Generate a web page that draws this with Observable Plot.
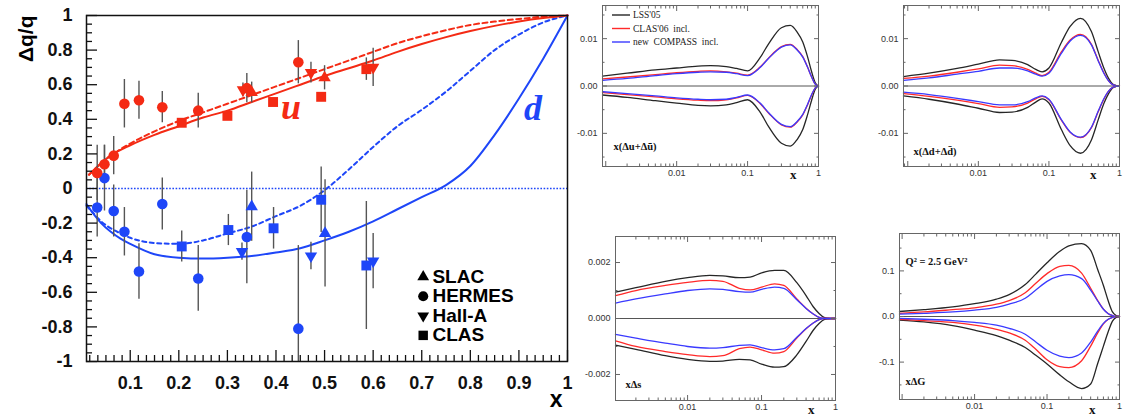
<!DOCTYPE html>
<html><head><meta charset="utf-8">
<script src="https://cdn.jsdelivr.net/npm/d3@7"></script>
<script src="https://cdn.jsdelivr.net/npm/@observablehq/plot@0.6"></script>
<style>
body{margin:0;background:#fff;}
#root{position:relative;width:1123px;height:418px;overflow:hidden;background:#fff;}
#root svg{position:absolute;}
</style></head><body><div id="root"></div>
<script>
// ================= LEFT PANEL DATA (Δq/q) =================
const expNames = ["SLAC", "HERMES", "Hall-A", "CLAS"];
const xTickLabels = [0.1, 0.2, 0.3, 0.4, 0.5, 0.6, 0.7, 0.8, 0.9, 1];
const yTickLabels = [-1, -0.8, -0.6, -0.4, -0.2, 0, 0.2, 0.4, 0.6, 0.8, 1];

const uX   = [0.032, 0.047, 0.066, 0.088, 0.118, 0.166, 0.206, 0.240, 0.300, 0.332, 0.340, 0.350, 0.394, 0.446, 0.472, 0.493, 0.500, 0.586, 0.600];
const uY   = [0.09, 0.14, 0.19, 0.49, 0.51, 0.47, 0.38, 0.45, 0.42, 0.57, 0.58, 0.555, 0.50, 0.73, 0.67, 0.53, 0.64, 0.69, 0.70];
const uErr = [0.16, 0.11, 0.11, 0.14, 0.11, 0.09, 0.02, 0.10, 0.02, 0.04, 0.085, 0.06, 0.02, 0.125, 0.06, 0.02, 0.07, 0.065, 0.11];
const uExp = ["HERMES","HERMES","HERMES","HERMES","HERMES","HERMES","CLAS","HERMES","CLAS","Hall-A","HERMES","SLAC","CLAS","HERMES","Hall-A","CLAS","SLAC","CLAS","Hall-A"];

const dX   = [0.032, 0.047, 0.066, 0.088, 0.118, 0.166, 0.206, 0.240, 0.302, 0.330, 0.340, 0.350, 0.395, 0.446, 0.472, 0.493, 0.501, 0.586, 0.600];
const dY   = [-0.11, 0.06, -0.13, -0.25, -0.48, -0.09, -0.335, -0.52, -0.24, -0.365, -0.28, -0.105, -0.23, -0.81, -0.39, -0.065, -0.26, -0.445, -0.42];
const dErr = [0.17, 0.19, 0.15, 0.14, 0.16, 0.15, 0.09, 0.19, 0.09, 0.05, 0.27, 0.20, 0.12, 0.48, 0.08, 0.19, 0.31, 0.37, 0.16];
const dExp = ["HERMES","HERMES","HERMES","HERMES","HERMES","HERMES","CLAS","HERMES","CLAS","Hall-A","HERMES","SLAC","CLAS","HERMES","Hall-A","CLAS","SLAC","CLAS","Hall-A"];

const uCurveX  = [0.015, 0.03, 0.05, 0.065, 0.1, 0.15, 0.2, 0.25, 0.3, 0.35, 0.4, 0.45, 0.5, 0.55, 0.6, 0.65, 0.7, 0.75, 0.8, 0.85, 0.9, 0.95, 1];
const uSolid   = [0.08, 0.12, 0.17, 0.2, 0.25, 0.31, 0.36, 0.41, 0.45, 0.5, 0.55, 0.6, 0.65, 0.695, 0.74, 0.79, 0.835, 0.875, 0.91, 0.94, 0.965, 0.985, 1];
const uDashed  = [0.08, 0.12, 0.17, 0.2, 0.26, 0.33, 0.39, 0.44, 0.49, 0.54, 0.59, 0.64, 0.69, 0.74, 0.79, 0.84, 0.88, 0.915, 0.945, 0.965, 0.98, 0.993, 1];
const dCurveX  = [0.01, 0.02, 0.04, 0.06, 0.08, 0.1, 0.15, 0.2, 0.25, 0.3, 0.35, 0.4, 0.45, 0.5, 0.55, 0.6, 0.65, 0.7, 0.75, 0.8, 0.85, 0.9, 0.95, 1];
const dSolid   = [-0.09, -0.13, -0.2, -0.25, -0.29, -0.32, -0.38, -0.40, -0.405, -0.40, -0.39, -0.37, -0.345, -0.3, -0.25, -0.19, -0.12, -0.05, 0.02, 0.13, 0.31, 0.52, 0.75, 1];
const dDashed  = [-0.1, -0.13, -0.19, -0.23, -0.26, -0.285, -0.315, -0.32, -0.3, -0.26, -0.22, -0.16, -0.1, -0.01, 0.11, 0.24, 0.36, 0.455, 0.56, 0.68, 0.8, 0.89, 0.96, 1];

// ================= RIGHT PANELS DATA =================
const seriesNames = ["LSS'05", "CLAS'06  incl.", "new  COMPASS  incl."];
// x(Δu+Δū)
const g1 = [0.0009, 0.002, 0.005, 0.01, 0.02, 0.03, 0.05, 0.07, 0.1, 0.15, 0.2, 0.3, 0.4, 0.5, 0.6, 0.7, 0.8, 0.9, 1];
const u_lssUp  = [0.0021, 0.0027, 0.0034, 0.0038, 0.0042, 0.0043, 0.0041, 0.0037, 0.0032, 0.0060, 0.0090, 0.0123, 0.0128, 0.0114, 0.0093, 0.0062, 0.0030, 0.0007, 0];
const u_clasUp = [0.0015, 0.0019, 0.0024, 0.0028, 0.0031, 0.0032, 0.0030, 0.0027, 0.0023, 0.0040, 0.0060, 0.0083, 0.0088, 0.0077, 0.0062, 0.0040, 0.0019, 0.0004, 0];
const u_compUp = [0.0012, 0.0016, 0.0022, 0.0026, 0.0029, 0.0030, 0.0029, 0.0026, 0.0022, 0.0039, 0.0059, 0.0082, 0.0087, 0.0076, 0.0061, 0.0040, 0.0019, 0.0004, 0];
const u_lssLo  = [-0.0019, -0.0024, -0.0031, -0.0036, -0.0041, -0.0042, -0.0040, -0.0035, -0.0029, -0.0055, -0.0087, -0.0121, -0.0127, -0.0113, -0.0092, -0.0061, -0.0030, -0.0007, 0];
const u_clasLo = [-0.0014, -0.0018, -0.0023, -0.0027, -0.0030, -0.0031, -0.0029, -0.0025, -0.0020, -0.0037, -0.0058, -0.0082, -0.0087, -0.0076, -0.0061, -0.0040, -0.0019, -0.0004, 0];
const u_compLo = [-0.0012, -0.0016, -0.0021, -0.0025, -0.0028, -0.0029, -0.0028, -0.0024, -0.0019, -0.0036, -0.0057, -0.0081, -0.0086, -0.0075, -0.0060, -0.0039, -0.0018, -0.0004, 0];
// x(Δd+Δd̄)
const g2 = [0.00087, 0.002, 0.005, 0.01, 0.02, 0.03, 0.05, 0.065, 0.08, 0.1, 0.15, 0.2, 0.28, 0.4, 0.5, 0.6, 0.7, 0.8, 0.9, 1];
const d_lssUp  = [0.0020, 0.0027, 0.0037, 0.0046, 0.0055, 0.0054, 0.0045, 0.0035, 0.0030, 0.0038, 0.0092, 0.0126, 0.0143, 0.0115, 0.0072, 0.0038, 0.0016, 0.0004, 0.0001, 0];
const d_clasUp = [0.0016, 0.0021, 0.0029, 0.0036, 0.0044, 0.0043, 0.0035, 0.0027, 0.0022, 0.0029, 0.0072, 0.0097, 0.0109, 0.0088, 0.0054, 0.0028, 0.0011, 0.0003, 0.0001, 0];
const d_compUp = [0.0012, 0.0017, 0.0025, 0.0031, 0.0038, 0.0038, 0.0032, 0.0025, 0.0021, 0.0027, 0.0069, 0.0095, 0.0107, 0.0087, 0.0053, 0.0027, 0.0011, 0.0003, 0.0001, 0];
const d_lssLo  = [-0.0021, -0.0028, -0.0038, -0.0047, -0.0056, -0.0055, -0.0045, -0.0034, -0.0027, -0.0036, -0.0092, -0.0126, -0.0142, -0.0114, -0.0071, -0.0037, -0.0016, -0.0004, -0.0001, 0];
const d_clasLo = [-0.0016, -0.0022, -0.0030, -0.0037, -0.0045, -0.0044, -0.0036, -0.0027, -0.0022, -0.0029, -0.0072, -0.0098, -0.0109, -0.0088, -0.0054, -0.0028, -0.0011, -0.0003, -0.0001, 0];
const d_compLo = [-0.0013, -0.0018, -0.0026, -0.0033, -0.0040, -0.0040, -0.0033, -0.0025, -0.0021, -0.0028, -0.0071, -0.0097, -0.0108, -0.0087, -0.0053, -0.0027, -0.0011, -0.0003, -0.0001, 0];
// xΔs
const g3 = [0.00106, 0.002, 0.005, 0.01, 0.02, 0.03, 0.05, 0.07, 0.1, 0.15, 0.2, 0.3, 0.4, 0.5, 0.6, 0.7, 0.8, 0.9, 1];
const s_lssUp  = [0.00094, 0.0011, 0.00133, 0.00146, 0.00154, 0.00152, 0.00146, 0.00148, 0.00163, 0.00172, 0.00172, 0.00128, 0.00082, 0.00042, 0.00018, 0.00004, 0.00001, 0, 0];
const s_clasUp = [0.00082, 0.0010, 0.00118, 0.00129, 0.00136, 0.00133, 0.00108, 0.00102, 0.00112, 0.00124, 0.00118, 0.0007, 0.00037, 0.00016, 0.00004, 0, 0, 0, 0];
const s_compUp = [0.00055, 0.0007, 0.00088, 0.0010, 0.00106, 0.00104, 0.00096, 0.00094, 0.00104, 0.00112, 0.00108, 0.00067, 0.00036, 0.00016, 0.00004, 0, 0, 0, 0];
const s_lssLo  = [-0.00095, -0.0011, -0.00133, -0.00146, -0.00153, -0.00152, -0.00146, -0.00148, -0.00163, -0.00174, -0.00172, -0.0013, -0.00082, -0.00042, -0.00018, -0.00004, -0.00001, 0, 0];
const s_clasLo = [-0.0008, -0.0010, -0.00118, -0.00129, -0.00136, -0.00133, -0.00108, -0.00102, -0.00112, -0.00124, -0.00118, -0.0007, -0.00037, -0.00016, -0.00004, 0, 0, 0, 0];
const s_compLo = [-0.00057, -0.0007, -0.00088, -0.0010, -0.00106, -0.00104, -0.00096, -0.00094, -0.00104, -0.00112, -0.00108, -0.00067, -0.00036, -0.00016, -0.00004, 0, 0, 0, 0];
// xΔG
const g4 = [0.00092, 0.002, 0.005, 0.01, 0.02, 0.03, 0.05, 0.07, 0.1, 0.15, 0.2, 0.3, 0.4, 0.5, 0.6, 0.7, 0.8, 0.9, 1];
const G_lssUp  = [0.011, 0.015, 0.021, 0.028, 0.038, 0.048, 0.070, 0.093, 0.118, 0.143, 0.155, 0.160, 0.145, 0.103, 0.068, 0.034, 0.010, 0.002, 0];
const G_clasUp = [0.007, 0.010, 0.015, 0.019, 0.027, 0.035, 0.052, 0.073, 0.094, 0.110, 0.112, 0.095, 0.062, 0.035, 0.016, 0.006, 0.002, 0, 0];
const G_compUp = [0.005, 0.007, 0.010, 0.014, 0.020, 0.027, 0.040, 0.058, 0.077, 0.089, 0.092, 0.083, 0.058, 0.034, 0.016, 0.006, 0.002, 0, 0];
const G_lssLo  = [-0.008, -0.012, -0.020, -0.030, -0.042, -0.052, -0.068, -0.085, -0.104, -0.128, -0.143, -0.158, -0.148, -0.103, -0.065, -0.033, -0.010, -0.002, 0];
const G_clasLo = [-0.006, -0.009, -0.013, -0.019, -0.028, -0.036, -0.052, -0.072, -0.095, -0.110, -0.112, -0.097, -0.065, -0.036, -0.016, -0.006, -0.002, 0, 0];
const G_compLo = [-0.004, -0.006, -0.009, -0.013, -0.019, -0.026, -0.039, -0.056, -0.074, -0.087, -0.090, -0.080, -0.056, -0.032, -0.015, -0.006, -0.002, 0, 0];

// ================= STYLE =================
const SANS = "'Liberation Sans', Arial, Helvetica, sans-serif";
const SERIF = "'Liberation Serif', 'Times New Roman', serif";
const RED = "#f42a14", BLUE = "#1e46f8";
const LINE_COLORS = ["#262626", "#ff2a2a", "#3a3aff"];
const root = document.getElementById("root");

function place(svg, left, top) {
  svg.style.left = left + "px";
  svg.style.top = top + "px";
  root.appendChild(svg);
}

// ---------- left chart ----------
const triangleDown = {
  draw(ctx, size) {
    const y = -Math.sqrt(size / (Math.sqrt(3) * 3));
    ctx.moveTo(0, -y * 2);
    ctx.lineTo(-Math.sqrt(3) * y, y);
    ctx.lineTo(Math.sqrt(3) * y, y);
    ctx.closePath();
  }
};
const SYM = {"SLAC": d3.symbolTriangle, "HERMES": d3.symbolCircle, "Hall-A": triangleDown, "CLAS": d3.symbolSquare};
const SYMR = {"SLAC": 4.6, "HERMES": 5.3, "Hall-A": 4.6, "CLAS": 5.6};

const uRows = uX.map((x, i) => ({x, y: uY[i], err: uErr[i], exp: uExp[i]}));
const dRows = dX.map((x, i) => ({x, y: dY[i], err: dErr[i], exp: dExp[i]}));
const curve = (xs, ys) => xs.map((x, i) => ({x, y: ys[i]}));

const pointMarks = (rows, color) => expNames.map(name =>
  Plot.dot(rows.filter(d => d.exp === name), {x: "x", y: "y", symbol: SYM[name], r: SYMR[name], fill: color, stroke: "none"}));

const yMinor = d3.range(-20, 21).filter(i => i % 4 !== 0).map(i => i / 20);
const xMinor = d3.range(1, 60).filter(i => i % 6 !== 0).map(i => i / 60);
const fmt1 = d => String(+d.toFixed(1));

// legend layout
const LEG_X = 0.703, LEG_TX = 0.722, LEG_Y0 = -0.51, LEG_STEP = 0.113;

const left = Plot.plot({
  width: 580, height: 418,
  marginLeft: 86, marginRight: 13, marginTop: 15, marginBottom: 57,
  x: {domain: [0.01, 1], label: null},
  y: {domain: [-1, 1], label: null},
  style: {fontFamily: SANS, fontSize: "18px", fontWeight: "bold", color: "#111", background: "transparent", overflow: "visible"},
  marks: [
    Plot.ruleY([0], {stroke: BLUE, strokeWidth: 1.6, strokeDasharray: "1.6,1.6"}),
    Plot.line(curve(dCurveX, dDashed), {x: "x", y: "y", stroke: BLUE, strokeWidth: 2, strokeDasharray: "4,3.5", curve: "monotone-x"}),
    Plot.line(curve(dCurveX, dSolid), {x: "x", y: "y", stroke: BLUE, strokeWidth: 2, curve: "monotone-x"}),
    Plot.line(curve(uCurveX, uDashed), {x: "x", y: "y", stroke: RED, strokeWidth: 2, strokeDasharray: "5,3.5", curve: "monotone-x"}),
    Plot.line(curve(uCurveX, uSolid), {x: "x", y: "y", stroke: RED, strokeWidth: 2, curve: "monotone-x"}),
    Plot.ruleX([...uRows, ...dRows], {x: "x", y1: d => d.y - d.err, y2: d => d.y + d.err, stroke: "#555", strokeWidth: 1.4, clip: true}),
    ...pointMarks(dRows, BLUE),
    ...pointMarks(uRows, RED),
    Plot.text(["u"], {x: () => 0.431, y: () => 0.47, text: d => d, fill: RED, fontFamily: SERIF, fontWeight: "bold", fontStyle: "italic", fontSize: 36}),
    Plot.text(["d"], {x: () => 0.929, y: () => 0.465, text: d => d, fill: BLUE, fontFamily: SERIF, fontWeight: "bold", fontStyle: "italic", fontSize: 36}),
    ...expNames.map((name, i) => Plot.dot([name], {x: () => LEG_X, y: () => LEG_Y0 - i * LEG_STEP, symbol: SYM[name], r: SYMR[name] * 0.95, fill: "#000"})),
    Plot.text(expNames, {x: () => LEG_TX, y: (d, i) => LEG_Y0 - i * LEG_STEP, text: d => d, textAnchor: "start", fontSize: 19, fontWeight: "bold", fill: "#000"}),
    Plot.frame({stroke: "#111", strokeWidth: 1.5}),
    Plot.axisY({ticks: yTickLabels, tickSize: 11, dx: 11, tickFormat: () => "", strokeWidth: 1.3}),
    Plot.axisY({ticks: yMinor, tickSize: 6, dx: 6, tickFormat: () => "", strokeWidth: 1.3}),
    Plot.axisY({ticks: yTickLabels, tickSize: 0, tickPadding: 14, tickFormat: fmt1}),
    Plot.axisX({ticks: xTickLabels, tickSize: 11, dy: -11, tickFormat: () => "", strokeWidth: 1.3}),
    Plot.axisX({ticks: xMinor, tickSize: 6, dy: -6, tickFormat: () => "", strokeWidth: 1.3}),
    Plot.axisX({ticks: xTickLabels, tickSize: 0, tickPadding: 15, tickFormat: fmt1}),
    Plot.text(["\u0394q/q"], {frameAnchor: "top-left", dx: -68, dy: 0, rotate: -90, textAnchor: "end", text: d => d, fontSize: 21, fontWeight: "bold", fill: "#000"}),
    Plot.text(["x"], {frameAnchor: "bottom-right", dx: -5, dy: 45, text: d => d, fontSize: 23, fontWeight: "bold", fill: "#000"})
  ]
});
place(left, 0, 0);

// ---------- small panels ----------
function legendMark(names) {
  return (index, scales, values, dims) => {
    const g = d3.create("svg:g").attr("font-family", SERIF).attr("font-size", 9.5)
      .attr("font-weight", "normal").attr("text-anchor", "start");
    names.forEach((label, i) => {
      const y = dims.marginTop + 10 + i * 13.5;
      g.append("line").attr("x1", dims.marginLeft + 10).attr("x2", dims.marginLeft + 28)
        .attr("y1", y).attr("y2", y).attr("stroke", LINE_COLORS[i]).attr("stroke-width", 1.4);
      g.append("text").attr("x", dims.marginLeft + 31).attr("y", y).attr("dy", "0.35em")
        .attr("text-anchor", "start").attr("fill", "#222").style("white-space", "pre").text(label);
    });
    return g.node();
  };
}

function smallPanel(o) {
  const ML = 42, MR = 4, MT = 5;
  const fw = o.frame[2] - o.frame[0], fh = o.frame[3] - o.frame[1];
  const d0 = o.xDomain[0];
  const logMaj = [0.001, 0.01, 0.1, 1].filter(v => v >= d0);
  const logMin = [];
  for (let k = -4; k < 0; k++) for (let m = 2; m < 10; m++) { const v = m * Math.pow(10, k); if (v >= d0 && v < 1) logMin.push(v); }
  const step = o.yTicks[1] - o.yTicks[0];
  const yMin = o.yTicks.slice(0, -1).map((v, i) => (v + o.yTicks[i + 1]) / 2)
    .concat([o.yTicks[0] - step / 2, o.yTicks[o.yTicks.length - 1] + step / 2])
    .filter(v => v > o.yDomain[0] && v < o.yDomain[1]);
  const lines = o.series.map((ys, i) =>
    Plot.line(curve(o.grid, ys), {x: "x", y: "y", stroke: LINE_COLORS[i % 3], strokeWidth: 1.3, curve: "monotone-x"}));
  const texts = o.labels.map(l => Plot.text([l.text], {frameAnchor: l.anchor, dx: l.dx, dy: l.dy, text: d => d, textAnchor: "start",
    fontFamily: SERIF, fontWeight: "bold", fontSize: l.size || 10.5, fill: "#111"}));
  const svg = Plot.plot({
    width: fw + ML + MR, height: fh + MT + o.mb,
    marginLeft: ML, marginRight: MR, marginTop: MT, marginBottom: o.mb,
    x: {type: "log", domain: o.xDomain, label: null},
    y: {domain: o.yDomain, label: null},
    style: {fontFamily: SANS, fontSize: "9px", color: "#333", background: "transparent", overflow: "visible"},
    marks: [
      Plot.ruleY([0], {stroke: "#555", strokeWidth: 1}),
      ...lines,
      Plot.frame({stroke: "#666", strokeWidth: 1}),
      Plot.axisX({anchor: "bottom", ticks: logMaj, tickSize: 5, dy: -5, tickFormat: () => "", stroke: "#666"}),
      Plot.axisX({anchor: "bottom", ticks: logMin, tickSize: 2.5, dy: -2.5, tickFormat: () => "", stroke: "#666"}),
      Plot.axisX({anchor: "top", ticks: logMaj, tickSize: 5, dy: 5, tickFormat: () => "", stroke: "#666"}),
      Plot.axisX({anchor: "top", ticks: logMin, tickSize: 2.5, dy: 2.5, tickFormat: () => "", stroke: "#666"}),
      Plot.axisX({anchor: "bottom", ticks: o.xLabels, tickSize: 0, tickPadding: 3, tickFormat: d => String(d)}),
      Plot.axisY({anchor: "left", ticks: o.yTicks, tickSize: 5, dx: 5, tickFormat: () => "", stroke: "#666"}),
      Plot.axisY({anchor: "left", ticks: yMin, tickSize: 2.5, dx: 2.5, tickFormat: () => "", stroke: "#666"}),
      Plot.axisY({anchor: "right", ticks: o.yTicks, tickSize: 5, dx: -5, tickFormat: () => "", stroke: "#666"}),
      Plot.axisY({anchor: "right", ticks: yMin, tickSize: 2.5, dx: -2.5, tickFormat: () => "", stroke: "#666"}),
      Plot.axisY({anchor: "left", ticks: o.yTicks, tickSize: 0, tickPadding: 5, tickFormat: o.yFmt}),
      Plot.text(["x"], {frameAnchor: "bottom-right", dx: o.xLab[0], dy: o.xLab[1], text: d => d, fontFamily: SERIF, fontWeight: "bold", fontSize: 13, fill: "#111"}),
      ...texts,
      ...(o.legend ? [legendMark(o.legend)] : [])
    ]
  });
  place(svg, o.frame[0] - ML, o.frame[1] - MT);
}

const xLabelsSmall = [0.01, 0.1, 1];

smallPanel({
  frame: [602, 5, 818, 166], mb: 29, grid: g1,
  xDomain: [0.0009, 1], yDomain: [-0.017, 0.017], yTicks: [-0.01, 0, 0.01], yFmt: d => d.toFixed(2),
  xLabels: xLabelsSmall, xLab: [-22, 12],
  series: [u_lssUp, u_clasUp, u_compUp, u_lssLo, u_clasLo, u_compLo],
  labels: [{text: "x(\u0394u+\u0394\u016B)", anchor: "top-left", dx: 11, dy: 137}],
  legend: seriesNames
});
smallPanel({
  frame: [903, 5, 1119, 166], mb: 29, grid: g2,
  xDomain: [0.00087, 1], yDomain: [-0.017, 0.017], yTicks: [-0.01, 0, 0.01], yFmt: d => d.toFixed(2),
  xLabels: xLabelsSmall, xLab: [-23, 12],
  series: [d_lssUp, d_clasUp, d_compUp, d_lssLo, d_clasLo, d_compLo],
  labels: [{text: "x(\u0394d+\u0394d\u0304)", anchor: "top-left", dx: 10, dy: 142}]
});
smallPanel({
  frame: [615, 236, 835, 400], mb: 18, grid: g3,
  xDomain: [0.00106, 1], yDomain: [-0.00293, 0.00293], yTicks: [-0.002, 0, 0.002], yFmt: d => d.toFixed(3),
  xLabels: xLabelsSmall, xLab: [-21, 13],
  series: [s_lssUp, s_clasUp, s_compUp, s_lssLo, s_clasLo, s_compLo],
  labels: [{text: "x\u0394s", anchor: "top-left", dx: 10, dy: 144}]
});
smallPanel({
  frame: [899, 233, 1119, 399], mb: 19, grid: g4,
  xDomain: [0.00092, 1], yDomain: [-0.182, 0.182], yTicks: [-0.1, 0, 0.1], yFmt: d => d.toFixed(1),
  xLabels: xLabelsSmall, xLab: [-24, 14],
  series: [G_lssUp, G_clasUp, G_compUp, G_lssLo, G_clasLo, G_compLo],
  labels: [{text: "Q\u00B2 = 2.5 GeV\u00B2", anchor: "top-left", dx: 6, dy: 24},
           {text: "x\u0394G", anchor: "top-left", dx: 6, dy: 144}]
});
</script>
</body></html>
